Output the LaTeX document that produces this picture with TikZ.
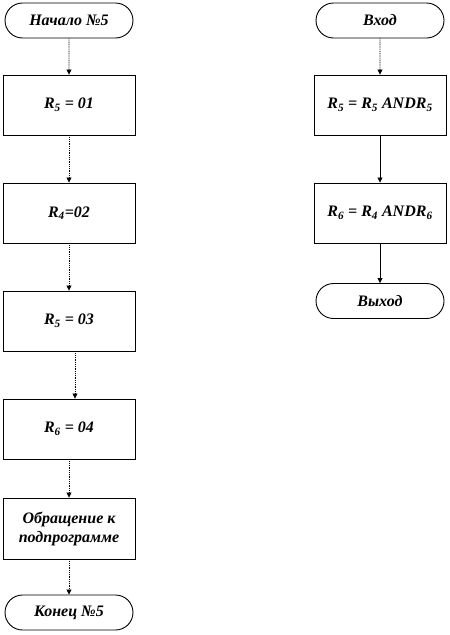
\documentclass[tikz,border=0pt]{standalone}
\usepackage{fontspec}
\setmainfont{Liberation Serif}
\usetikzlibrary{shapes.misc,arrows.meta}
\begin{document}
\begin{tikzpicture}[x=1pt,y=1pt,
  every node/.style={font=\bfseries\itshape\fontsize{16}{19}\selectfont},
  proc/.style={draw, line width=0.9pt, minimum width=132pt, minimum height=60pt, inner sep=2pt, align=center},
  term/.style={draw, rounded rectangle, line width=0.9pt, minimum width=132pt, minimum height=35pt, inner sep=2pt},
  link/.style={-{Triangle[length=5pt,width=5pt]}, line width=0.8pt},
  dotlink/.style={link, dash pattern=on 1pt off 0.8pt}]
\useasboundingbox (0,0) rectangle (450,-635);
% left column
\node[term] (start) at (69,-20.5) {Начало №5};
\node[proc] (a1) at (69,-105) {R\textsubscript{5} = 01};
\node[proc] (a2) at (69,-213) {R\textsubscript{4}=02};
\node[proc] (a3) at (69,-321) {R\textsubscript{5} = 03};
\node[proc] (a4) at (69,-429) {R\textsubscript{6} = 04};
\node[proc, minimum height=61pt] (a5) at (69,-528.5) {Обращение к\\подпрограмме};
\node[term] (end) at (69,-612.5) {Конец №5};
% right column
\node[term] (in) at (380,-20.5) {Вход};
\node[proc] (b1) at (380,-105) {R\textsubscript{5} = R\textsubscript{5} ANDR\textsubscript{5}};
\node[proc] (b2) at (380,-213) {R\textsubscript{6} = R\textsubscript{4} ANDR\textsubscript{6}};
\node[term] (out) at (380,-301) {Выход};
% connectors
\draw[dotlink] (start) -- (a1);
\draw[dotlink] (a1) -- (a2);
\draw[dotlink] (a2) -- (a3);
\draw[dotlink] ([xshift=6pt]a3.south) -- ([xshift=6pt]a4.north);
\draw[dotlink] (a4) -- (a5);
\draw[dotlink] (a5) -- (end);
\draw[dotlink] (in) -- (b1);
\draw[link] (b1) -- (b2);
\draw[link] (b2) -- (out);
\end{tikzpicture}
\end{document}
